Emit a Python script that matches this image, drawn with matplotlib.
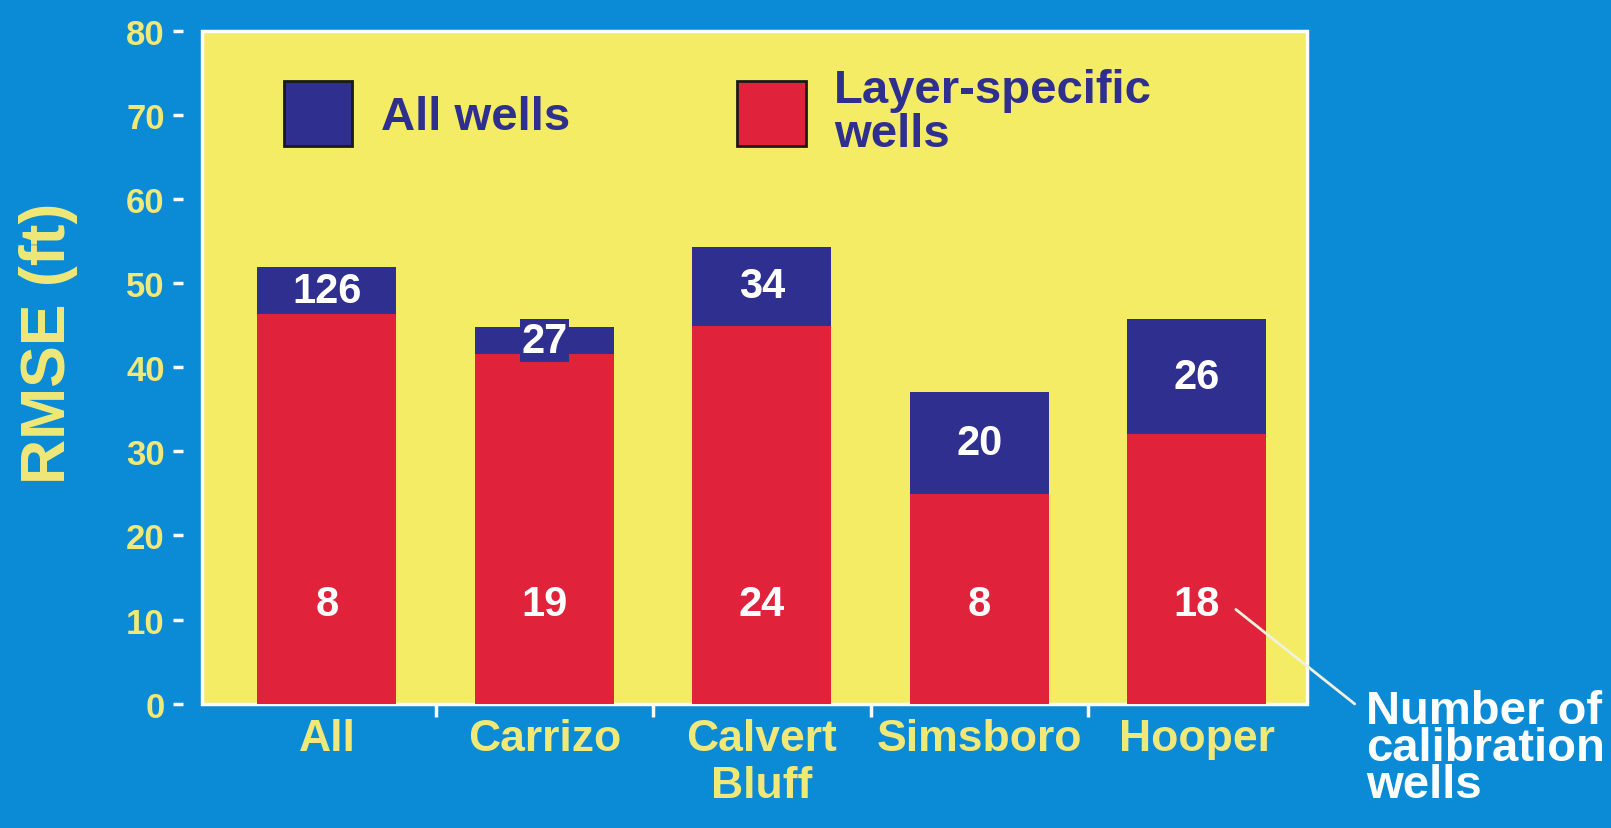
import matplotlib
matplotlib.use("Agg")
import matplotlib.pyplot as plt
from matplotlib.patches import Patch

categories = ['All', 'Carrizo', 'Calvert\nBluff', 'Simsboro', 'Hooper']
rmse_all_wells = [51.9, 44.8, 54.3, 37.0, 45.7]
rmse_layer = [46.3, 41.5, 44.9, 24.9, 32.0]
n_all_wells = [126, 27, 34, 20, 26]
n_layer = [8, 19, 24, 8, 18]

BG = '#0b8ad5'
YEL = '#f4ec64'
YTXT = '#f0e878'
RED = '#e0233a'
NAVY = '#2e2f8f'
WIDE = ['Liberation Sans', 'DejaVu Sans']

fig = plt.figure(figsize=(16.11, 8.29), dpi=100, facecolor=BG)
ax = fig.add_axes([0.1254, 0.150, 0.686, 0.812])
ax.set_facecolor(YEL)
ax.patch.set_edgecolor('white')
ax.patch.set_linewidth(2.5)

x = list(range(len(categories)))
ax.bar(x, rmse_all_wells, width=0.64, color=NAVY, zorder=2)
ax.bar(x, rmse_layer, width=0.64, color=RED, zorder=3)

for i in x:
    mid = (rmse_all_wells[i] + rmse_layer[i]) / 2
    ax.text(i, mid, str(n_all_wells[i]), ha='center', va='center', color='white',
            fontsize=30, fontweight='bold', family=WIDE, zorder=5,
            bbox=dict(facecolor=NAVY, edgecolor='none', pad=1))
    ax.text(i, 11.8, str(n_layer[i]), ha='center', va='center', color='white',
            fontsize=30, fontweight='bold', family=WIDE, zorder=5)

ax.set_xlim(-0.574, 4.508)
ax.set_ylim(0, 80)
for s in ax.spines.values():
    s.set_visible(False)
ax.spines['left'].set_position(('outward', 14))

ax.set_yticks(range(0, 81, 10))
ax.tick_params(axis='y', colors=YTXT, color='white', length=7, width=2.5,
               pad=6, labelsize=25)
for t in ax.get_yticklabels():
    t.set_fontweight('bold')
    t.set_family(WIDE)

ax.set_xticks([0.5, 1.5, 2.5, 3.5])
ax.set_xticklabels([])
ax.tick_params(axis='x', which='major', color='white', length=9, width=2.5)
ax.set_xticks(x, minor=True)
ax.set_xticklabels(categories, minor=True)
ax.tick_params(axis='x', which='minor', length=0, pad=10, labelsize=32,
               labelcolor=YTXT)
for t in ax.get_xticklabels(minor=True):
    t.set_fontweight('bold')
    t.set_family(WIDE)
    t.set_va('top')

fig.text(0.030, 0.586, 'RMSE (ft)', rotation=90, ha='center', va='center',
         color=YTXT, fontsize=45, fontweight='bold', family=WIDE)

handles = [Patch(facecolor=NAVY, edgecolor='#1a1a1a', linewidth=2),
           Patch(facecolor=RED, edgecolor='#1a1a1a', linewidth=2)]
leg = ax.legend(handles, ['All wells', 'Layer-specific\nwells'], ncol=2,
                loc='upper left', bbox_to_anchor=(0.074, 0.945), frameon=False,
                borderpad=0, borderaxespad=0, handlelength=1.45, handleheight=1.75,
                handletextpad=0.6, columnspacing=3.55,
                prop={'size': 34, 'weight': 'bold', 'family': WIDE})
for t in leg.get_texts():
    t.set_color(NAVY)
    t.set_linespacing(1.0)

ax.annotate('', xy=(4 + 0.17, 11.4), xytext=(1.045, -0.003),
            textcoords='axes fraction', annotation_clip=False,
            arrowprops=dict(arrowstyle='-', color='#f2f2dc', lw=2))
ax.text(1.053, 0.022, 'Number of\ncalibration\nwells', transform=ax.transAxes,
        ha='left', va='top', color='white', fontsize=34, fontweight='bold',
        family=WIDE, linespacing=0.8)

fig.savefig('out.png', dpi=100, facecolor=BG)
